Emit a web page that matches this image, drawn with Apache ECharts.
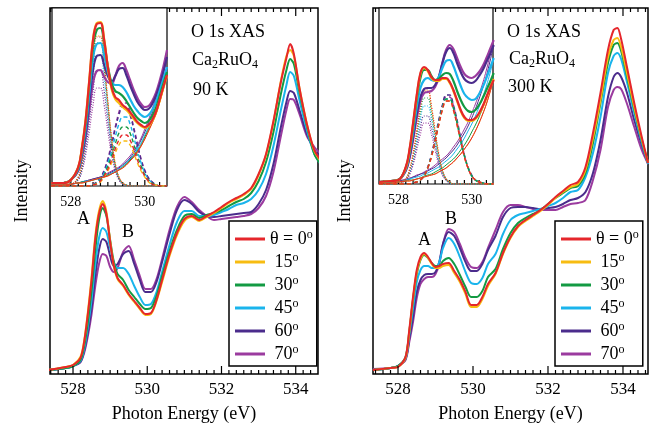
<!DOCTYPE html>
<html><head><meta charset="utf-8">
<script src="https://cdn.jsdelivr.net/npm/echarts@6/dist/echarts.min.js"></script>
<style>html,body{margin:0;padding:0;background:#fff}#c{width:651px;height:430px}</style>
</head><body><div id="c"></div>
<script>
// ---------- data ----------
const energy = [527.33,527.8,528.0,528.2,528.3,528.4,528.5,528.6,528.7,528.8,528.9,529.0,529.1,529.2,529.35,529.5,529.65,529.8,529.95,530.1,530.25,530.4,530.6,530.8,531.0,531.2,531.4,531.6,531.8,532.0,532.2,532.4,532.6,532.8,533.0,533.2,533.4,533.6,533.75,533.85,533.95,534.1,534.3,534.5,534.67];
const insetEnergy = [527.47,527.8,528.0,528.2,528.3,528.4,528.5,528.6,528.7,528.8,528.9,529.0,529.1,529.2,529.3,529.4,529.5,529.6,529.7,529.8,529.9,530.0,530.1,530.2,530.3,530.4,530.5,530.6];
const angleNames = ['θ = 0','15','30','45','60','70'];
const majorTicks = [528,530,532,534];
const insetMajorTicks = [528,530];

const main90 = [
 [2,5,7,14,30,58,92,133,158,168,158,130,106,94,87,78,71,64,58,59,72,92,118,139,153,156,152,156,160,165,170,174,178,184,198,218,251,290,314,328,318,284,248,222,212],
 [2,5,7,15,31,60,95,136,161,171,160,131,106,93,86,77,70,63,57,58,71,90,116,137,151,155,151,155,159,164,169,173,177,183,197,217,250,291,316,322,316,284,248,221,211],
 [2,4,6,12,26,50,82,122,152,164,156,132,110,98,92,82,75,68,63,64,76,96,121,142,156,158,154,157,159,162,166,170,173,179,191,210,240,278,302,313,308,280,246,218,208],
 [2,4,6,11,23,45,72,108,134,144,140,124,110,104,104,98,86,75,67,68,80,100,127,150,161,161,156,156,157,160,163,167,169,173,182,198,226,262,287,300,296,272,242,218,208],
 [2,4,6,10,21,40,64,96,122,133,130,116,106,108,118,121,108,92,80,80,90,110,138,162,172,168,160,156,155,156,157,158,159,160,168,182,208,245,270,281,279,262,238,222,215],
 [2,4,6,10,19,36,58,86,108,118,116,105,100,104,120,126,112,96,83,83,93,113,142,165,175,170,162,156,152,153,154,155,156,158,164,176,200,236,262,273,272,258,236,225,218]
];
const main300 = [
 [2,4,5,15,42,75,102,115,119,115,109,105,106,108,109,101,92,80,67,67,75,88,99,119,135,146,152,157,162,168,175,181,187,190,205,239,279,322,342,344,333,306,269,235,209],
 [2,4,5,14,40,73,100,113,118,114,108,104,104,106,107,99,90,78,65,65,73,86,98,118,134,145,151,156,161,167,174,180,185,188,202,234,272,315,332,334,325,300,265,233,209],
 [2,4,6,15,40,72,98,112,117,114,109,106,106,111,114,108,97,85,75,75,81,95,103,123,139,149,154,158,162,168,174,179,184,186,199,229,269,309,327,329,321,297,263,232,209],
 [2,4,6,14,37,64,90,102,106,106,104,104,110,124,134,128,115,100,89,88,94,108,118,138,152,157,159,161,163,166,169,174,180,182,195,219,255,299,316,319,313,291,259,230,208],
 [2,4,6,13,33,55,80,92,97,98,98,100,110,128,140,136,124,110,101,101,108,122,136,155,164,165,165,164,163,164,165,168,172,174,180,199,232,275,295,299,295,280,252,227,208],
 [3,4,6,12,30,50,74,88,93,95,95,98,108,128,143,140,128,114,105,104,110,124,142,160,167,167,165,163,162,162,162,165,168,169,172,192,222,265,282,285,283,269,245,222,208]
];
const fit90 = [
 [3,3,6,19,38,66,106,146,162,163,146,119,99,89,86,81,78,74,69,64,61,59,61,66,74,86,99,111],
 [3,3,6,19,39,67,107,147,163,164,147,119,97,87,83,79,76,72,67,63,60,58,60,65,73,85,98,110],
 [3,3,6,18,37,63,102,140,156,158,143,120,103,95,93,90,85,79,73,68,65,63,65,70,78,90,102,114],
 [3,3,6,17,34,58,93,128,142,143,131,114,104,101,101,99,94,87,80,75,71,69,71,76,84,95,107,119],
 [3,3,6,16,32,53,85,116,130,131,121,110,104,110,117,118,111,101,92,84,79,76,77,82,90,101,114,129],
 [3,3,6,15,29,48,76,103,115,116,109,104,102,110,120,123,116,106,96,88,82,79,80,85,93,105,119,136]
];
const peakA90 = [
 [0,0,1,9,22,48,84,123,149,149,123,84,48,22,9,3,1,0,0,0,0,0,0,0,0,0,0,0],
 [0,0,1,9,23,48,85,125,150,150,125,85,48,23,9,3,1,0,0,0,0,0,0,0,0,0,0,0],
 [0,0,1,8,21,46,81,118,143,143,118,81,46,21,8,3,1,0,0,0,0,0,0,0,0,0,0,0],
 [0,0,1,8,20,42,74,108,131,131,108,74,42,20,8,2,1,0,0,0,0,0,0,0,0,0,0,0],
 [0,0,1,7,17,37,65,95,115,115,95,65,37,17,7,2,1,0,0,0,0,0,0,0,0,0,0,0],
 [0,0,1,6,15,31,55,81,98,98,81,55,31,15,6,2,1,0,0,0,0,0,0,0,0,0,0,0]
];
const peakB90 = [
 [0,0,0,0,0,0,0,1,2,5,10,17,26,37,46,51,51,46,37,26,17,10,5,2,1,0,0,0],
 [0,0,0,0,0,0,0,1,2,4,9,15,23,33,41,45,45,41,33,23,15,9,4,2,1,0,0,0],
 [0,0,0,0,0,0,0,1,3,6,11,20,30,42,53,59,59,53,42,30,20,11,6,3,1,0,0,0],
 [0,0,0,0,0,0,0,1,3,7,13,23,35,49,62,69,69,62,49,35,23,13,7,3,1,0,0,0],
 [0,0,0,0,0,0,0,1,4,8,15,26,40,57,71,79,79,71,57,40,26,15,8,4,1,0,0,0],
 [0,0,0,0,0,0,0,2,4,8,16,27,43,59,74,83,83,74,59,43,27,16,8,4,2,0,0,0]
];
const bg90 = [
 [1,1,2,3,3,4,5,6,7,8,9,10,12,14,16,18,21,25,29,34,40,47,55,63,72,84,97,111],
 [1,1,2,3,3,4,5,6,7,8,9,10,12,14,16,18,21,25,29,34,40,47,55,63,72,83,96,110],
 [1,1,2,3,4,4,5,6,7,8,9,11,12,14,16,19,22,26,30,35,41,49,57,66,75,87,100,114],
 [1,1,2,3,4,5,5,6,7,8,10,11,13,15,17,20,23,27,31,37,43,51,59,68,78,90,104,119],
 [1,1,2,3,4,5,6,7,8,9,10,12,14,16,18,21,24,28,33,39,46,54,63,73,84,97,112,129],
 [1,1,2,3,4,5,6,7,8,9,11,13,15,17,19,22,26,30,35,41,48,57,66,77,88,102,118,136]
];
const fit300 = [
 [2,3,4,17,34,61,89,111,117,114,107,104,104,106,106,102,94,84,74,67,64,64,66,71,78,87,96,104],
 [2,3,4,16,33,60,88,110,116,113,106,103,103,105,105,101,93,83,73,66,63,63,65,70,77,86,96,105],
 [2,3,4,16,32,57,85,106,114,114,108,104,105,109,111,110,103,93,84,77,73,72,74,79,86,94,102,111],
 [2,3,4,15,30,52,77,96,104,106,104,103,107,116,123,124,118,108,98,90,86,84,85,90,97,106,116,126],
 [2,3,4,14,27,47,70,87,95,96,96,99,107,121,132,136,131,121,112,105,102,101,103,108,114,122,130,139],
 [2,3,4,13,25,44,66,83,91,92,93,97,106,121,134,139,135,126,117,110,107,106,108,112,118,126,135,144]
];
const peakA300 = [
 [0,0,0,5,14,30,53,78,94,94,78,53,30,14,5,2,0,0,0,0,0,0,0,0,0,0,0,0],
 [0,0,0,5,14,30,53,77,93,93,77,53,30,14,5,2,0,0,0,0,0,0,0,0,0,0,0,0],
 [0,0,0,5,13,28,49,71,86,86,71,49,28,13,5,2,0,0,0,0,0,0,0,0,0,0,0,0],
 [0,0,0,5,12,25,44,65,78,78,65,44,25,12,5,1,0,0,0,0,0,0,0,0,0,0,0,0],
 [0,0,0,4,10,22,39,57,68,68,57,39,22,10,4,1,0,0,0,0,0,0,0,0,0,0,0,0],
 [0,0,0,4,9,19,34,50,61,61,50,34,19,9,4,1,0,0,0,0,0,0,0,0,0,0,0,0]
];
const peakB300 = [
 [0,0,0,0,0,1,2,4,8,16,27,43,59,74,83,83,74,59,43,27,16,8,4,2,1,0,0,0],
 [0,0,0,0,0,1,2,4,8,16,27,43,59,74,83,83,74,59,43,27,16,8,4,2,1,0,0,0],
 [0,0,0,0,0,1,2,4,8,16,28,43,61,76,85,85,76,61,43,28,16,8,4,2,1,0,0,0],
 [0,0,0,0,0,1,2,4,8,16,28,43,61,76,85,85,76,61,43,28,16,8,4,2,1,0,0,0],
 [0,0,0,0,0,1,2,4,9,17,29,46,64,79,89,89,79,64,46,29,17,9,4,2,1,0,0,0],
 [0,0,0,0,0,1,2,4,8,16,29,45,62,78,87,87,78,62,45,29,16,8,4,2,1,0,0,0]
];
const bg300 = [
 [1,1,2,3,3,4,5,6,7,8,9,10,12,14,16,19,22,26,30,35,40,46,53,61,70,80,92,104],
 [1,1,2,3,3,4,5,6,7,8,9,10,12,14,16,19,22,26,30,35,40,46,53,61,70,80,92,105],
 [1,1,2,3,4,4,5,6,8,9,10,12,14,16,19,22,25,29,34,39,45,52,59,67,76,87,98,111],
 [1,2,2,4,5,6,7,8,10,11,13,15,17,20,23,26,30,35,40,46,53,60,68,77,87,98,111,126],
 [1,2,3,4,5,7,8,10,11,13,15,17,20,23,26,30,34,39,45,51,58,66,75,85,96,108,123,139],
 [2,2,3,5,6,7,9,10,12,14,16,19,22,25,28,32,37,42,48,55,62,71,80,90,101,114,129,144]
];

// ---------- styles ----------
const colors = ['#e5262b','#f7bc12','#139a43','#1ab4ec','#4b2c8c','#9b3b9f'];
const FONT = '"Liberation Serif", "DejaVu Serif", serif';

const panels = [
  {grid:{left:50, top:8, width:268, height:366}, range:[527.38,534.6], yr:[-2,364],
   inset:{left:52, top:8, width:115, height:178}, irange:[527.49,530.6], iyr:[0,178],
   main:main90, fit:fit90, A:peakA90, B:peakB90, bg:bg90},
  {grid:{left:373, top:8, width:275, height:366}, range:[527.333,534.667], yr:[-2,364],
   inset:{left:379, top:8, width:114, height:176}, irange:[527.47,530.58], iyr:[0,176],
   main:main300, fit:fit300, A:peakA300, B:peakB300, bg:bg300}
];

function minorTicks(a, b) {
  const out = [];
  for (let k = Math.ceil(a * 5 + 1e-6); k <= Math.floor(b * 5 - 1e-6); k++) out.push(+(k / 5).toFixed(1));
  return out;
}

const grids = [], xAxes = [], yAxes = [], series = [];

// inward tick marks: short vertical line segments at each tick value, through the axis scales
function addTicks(xi, yi, values, yr, gridH, lenPx, top, z) {
  const u = (yr[1] - yr[0]) / gridH;
  values.forEach(v => {
    const segs = [[[v, yr[0]], [v, yr[0] + lenPx * u]]];
    if (top) segs.push([[v, yr[1]], [v, yr[1] - lenPx * u]]);
    segs.forEach(seg => series.push({type:'line', name:'tick', xAxisIndex:xi, yAxisIndex:yi, z:z,
      symbol:'none', silent:true, clip:false, animation:false,
      lineStyle:{color:'#000', width:1.2}, data:seg}));
  });
}

panels.forEach((p, pi) => {
  const gMain = grids.length;
  grids.push(Object.assign({show:true, borderColor:'#000', borderWidth:1.5, backgroundColor:'transparent', z:0}, p.grid));
  const gIn = grids.length;
  grids.push(Object.assign({show:true, borderColor:'#000', borderWidth:1.2, backgroundColor:'#fff', z:10}, p.inset));

  const xm = xAxes.length;
  xAxes.push({type:'value', gridIndex:gMain, min:p.range[0], max:p.range[1], position:'bottom',
    axisLine:{show:false, onZero:false}, splitLine:{show:false}, axisTick:{show:false},
    axisLabel:{show:true, customValues:majorTicks, color:'#000', fontFamily:FONT, fontSize:17, margin:7},
    name:'Photon Energy (eV)', nameLocation:'middle', nameGap:31,
    nameTextStyle:{fontFamily:FONT, fontSize:18, color:'#000'}});
  const ym = yAxes.length;
  yAxes.push({type:'value', gridIndex:gMain, min:p.yr[0], max:p.yr[1], axisLine:{show:false}, axisTick:{show:false},
    axisLabel:{show:false}, splitLine:{show:false}, name:'Intensity', nameLocation:'middle', nameGap:19,
    nameTextStyle:{fontFamily:FONT, fontSize:18, color:'#000'}});

  const xi = xAxes.length;
  xAxes.push({type:'value', gridIndex:gIn, min:p.irange[0], max:p.irange[1], position:'bottom', z:13,
    axisLine:{show:false, onZero:false}, splitLine:{show:false}, axisTick:{show:false},
    axisLabel:{show:true, customValues:insetMajorTicks, color:'#000', fontFamily:FONT, fontSize:14, margin:9}});
  const yi = yAxes.length;
  yAxes.push({type:'value', gridIndex:gIn, min:p.iyr[0], max:p.iyr[1], show:false});

  // tick marks first (low z), then spectra
  addTicks(xm, ym, majorTicks, p.yr, p.grid.height, 8, true, 3);
  addTicks(xm, ym, minorTicks(p.range[0], p.range[1]).filter(v => majorTicks.indexOf(v) < 0), p.yr, p.grid.height, 4, true, 3);
  addTicks(xi, yi, insetMajorTicks, p.iyr, p.inset.height, 6, false, 12);
  addTicks(xi, yi, minorTicks(p.irange[0], p.irange[1]).filter(v => insetMajorTicks.indexOf(v) < 0), p.iyr, p.inset.height, 4, false, 12);

  // main spectra (drawn 70° first so 0° is on top)
  for (let k = 5; k >= 0; k--) {
    series.push({type:'line', name:angleNames[k], xAxisIndex:xm, yAxisIndex:ym, symbol:'none', smooth:0.3,
      lineStyle:{color:colors[k], width:2}, itemStyle:{color:colors[k]}, z:2, silent:true,
      data:energy.map((e, i) => [e, p.main[k][i]])});
  }
  // inset components
  const comp = (arr, k, tag, ls) => ({type:'line', name:tag + pi + '_' + k, xAxisIndex:xi, yAxisIndex:yi, symbol:'none', smooth:0.4,
    lineStyle:Object.assign({color:colors[k]}, ls), z:12, silent:true,
    data:insetEnergy.map((e, i) => [e, arr[k][i]])});
  for (let k = 5; k >= 0; k--) {
    series.push(comp(p.bg, k, 'bg', {width:1}));
    series.push(comp(p.B, k, 'B', {width:1.4, type:[4,3]}));
    series.push(comp(p.A, k, 'A', {width:1.2, type:[1,1.5]}));
  }
  for (let k = 5; k >= 0; k--) series.push(comp(p.fit, k, 'fit', {width:2.2}));
});

const legendRich = {
  n:{fontFamily:FONT, fontSize:18, color:'#000', lineHeight:20},
  s:{fontFamily:FONT, fontSize:12, color:'#000', lineHeight:11, verticalAlign:'top'}
};
function legendAt(left) {
  return {orient:'vertical', left:left, top:221, data:angleNames, selectedMode:false,
    icon:'rect', itemWidth:30, itemHeight:3, itemGap:4, padding:[8,4,3,6],
    borderColor:'#000', borderWidth:1.5, backgroundColor:'#fff', z:20,
    formatter:n => (n === 'θ = 0' ? '{n|θ = 0}' : '{n| ' + n + '}') + '{s|o}',
    textStyle:{fontFamily:FONT, fontSize:18, color:'#000', rich:legendRich}};
}

const subRich = {s:{fontFamily:FONT, fontSize:12, fill:'#000', lineHeight:11, verticalAlign:'bottom'}};
function txt(x, y, t, rich) {
  return {type:'text', x:x, y:y, z:30, silent:true,
    style:{text:t, fontFamily:FONT, fontSize:18, fill:'#000', verticalAlign:'middle', lineHeight:22, rich:rich}};
}

const chart = echarts.init(document.getElementById('c'), null, {renderer:'canvas'});
chart.setOption({
  animation:false,
  backgroundColor:'#fff',
  grid:grids, xAxis:xAxes, yAxis:yAxes, series:series,
  legend:[legendAt(229), legendAt(555)],
  graphic:[
    txt(191, 32, 'O 1s XAS'),
    txt(192, 60, 'Ca{s|2}RuO{s|4}', subRich),
    txt(193, 90, '90 K'),
    txt(507, 32, 'O 1s XAS'),
    txt(509, 59, 'Ca{s|2}RuO{s|4}', subRich),
    txt(508, 87, '300 K'),
    txt(77, 219, 'A'),
    txt(122, 232, 'B'),
    txt(418, 240, 'A'),
    txt(445, 219, 'B')
  ]
});
</script></body></html>
